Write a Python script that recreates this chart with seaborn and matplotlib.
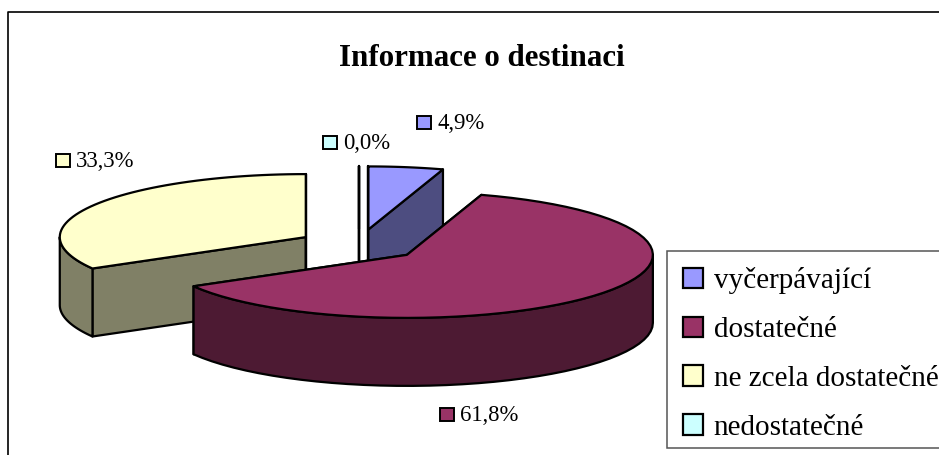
import numpy as np
import matplotlib
matplotlib.use("Agg")
import matplotlib.pyplot as plt
from matplotlib.patches import Patch, Polygon, Rectangle
import seaborn as sns

# ---------- data ----------
categories = ["vyčerpávající", "dostatečné", "ne zcela dostatečné", "nedostatečné"]
values = [4.9, 61.8, 33.3, 0.0]
value_labels = ["4,9%", "61,8%", "33,3%", "0,0%"]
slice_colors = ["#9999FF", "#993366", "#FFFFCC", "#CCFFFF"]

# ---------- layout (pixels of the 939x455 picture) ----------
CX, CY = 359, 245
RX, RY = 246, 63
DEPTH = 68
EXPLODE = 0.25
LW = 1.6
label_pos = [(417, 122), (440, 414), (56, 160), (323, 142)]

sns.set_theme(style="white")
plt.rcParams["font.family"] = ["Liberation Serif", "DejaVu Serif"]
palette = sns.color_palette(slice_colors)


def rim(angles, apex):
    """points of the pie rim, angles are degrees clockwise from 12 o'clock"""
    a = np.radians(angles)
    return np.column_stack([apex[0] + RX * np.sin(a), apex[1] - RY * np.cos(a)])


def draw_slice(ax, start, end, color):
    mid = np.radians((start + end) / 2)
    apex = (CX + EXPLODE * RX * np.sin(mid), CY - EXPLODE * RY * np.cos(mid))
    dark = tuple(c * 0.5 for c in color)
    style = dict(edgecolor="black", linewidth=LW, joinstyle="round")
    drop = np.array([0, DEPTH])

    # the two cut faces
    for ang in (start, end):
        p = rim([ang], apex)[0]
        quad = [apex, p, p + drop, np.array(apex) + drop]
        ax.add_patch(Polygon(quad, facecolor=dark, **style))

    # outer wall, only the part that looks at the viewer
    a0, a1 = max(start, 90), min(end, 270)
    if a1 > a0:
        arc = rim(np.linspace(a0, a1, 40), apex)
        ax.add_patch(Polygon(np.vstack([arc, arc[::-1] + drop]), facecolor=dark, **style))

    # top
    top = rim(np.linspace(start, end, 60), apex)
    ax.add_patch(Polygon(np.vstack([[apex], top]), facecolor=color, **style))


fig = plt.figure(figsize=(9.39, 4.55), dpi=100)
ax = fig.add_axes([0, 0, 1, 1])
ax.set_xlim(0, 939)
ax.set_ylim(455, 0)
ax.axis("off")

# chart frame, open at the bottom and right like the scan
ax.plot([8, 8, 939], [455, 12, 12], color="black", lw=1.2, clip_on=False)

edges = np.concatenate([[0], np.cumsum(values)]) * 3.6
order = [3, 0, 2, 1]
for i in order:
    draw_slice(ax, edges[i], edges[i + 1], palette[i])

# data labels with their little keys
for i, (x, y) in enumerate(label_pos):
    ax.add_patch(Rectangle((x, y - 6.5), 14, 13, facecolor=palette[i],
                           edgecolor="black", linewidth=1.4))
    ax.text(x + 20, y + 1.5, value_labels[i], fontsize=16.4, va="center", ha="left", color="black")

ax.text(482, 58, "Informace o destinaci", fontsize=22.3, fontweight="bold",
        ha="center", va="center", color="black")

# legend box runs off the right edge
ax.add_patch(Rectangle((667, 251), 300, 197, facecolor="white", edgecolor="#555555", linewidth=1.1))
handles = [Patch(facecolor=c, edgecolor="black", linewidth=1.6) for c in palette]
leg = ax.legend(handles, categories, loc="upper left", bbox_to_anchor=(667 / 939, 1 - 251 / 455),
                borderaxespad=0, fontsize=21, frameon=False, labelcolor="black",
                handlelength=0.7, handleheight=0.7, handletextpad=0.35,
                labelspacing=0.77, borderpad=0.55)

fig.savefig("out.png", dpi=100)
